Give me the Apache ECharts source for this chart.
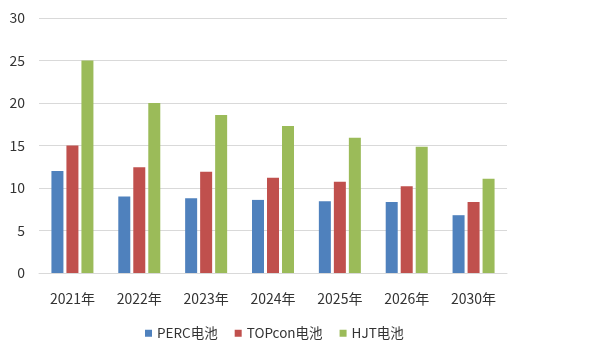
<!DOCTYPE html>
<html><head><meta charset="utf-8">
<script src="https://cdn.jsdelivr.net/npm/echarts@6/dist/echarts.min.js"></script>
<style>html,body{margin:0;padding:0;background:#fff}#c{width:600px;height:360px}</style>
</head><body><div id="c"></div>
<script>
const categories = ['2021年','2022年','2023年','2024年','2025年','2026年','2030年'];
const perc = [12.0, 9.0, 8.8, 8.6, 8.45, 8.35, 6.8];
const topcon = [15.0, 12.45, 11.9, 11.2, 10.75, 10.2, 8.35];
const hjt = [25.0, 20.0, 18.6, 17.3, 15.9, 14.85, 11.1];
const seriesNames = ['PERC电池','TOPcon电池','HJT电池'];
const colors = ['#4F81BD','#C0504D','#9BBB59'];

const font = '"Noto Sans CJK SC", "Noto Sans", sans-serif';
const chart = echarts.init(document.getElementById('c'));
const mk = (name, data, color) => ({
  name, type:'bar', data, barWidth: 12, barGap: '25%',
  itemStyle:{color}
});
chart.setOption({
  animation:false,
  textStyle:{fontFamily:font},
  grid:{left:39, right:93, top:18, bottom:87},
  legend:{
    bottom:15, left:140, itemWidth:7, itemHeight:7, itemGap:17,
    icon:'rect',
    textStyle:{fontSize:13.5, color:'#333', fontFamily:font},
    data: seriesNames
  },
  xAxis:{
    type:'category', data:categories,
    axisLine:{lineStyle:{color:'#d9d9d9'}},
    axisTick:{show:false},
    axisLabel:{fontSize:14, color:'#333', margin:19, fontFamily:font}
  },
  yAxis:{
    type:'value', min:0, max:30, interval:5,
    axisLine:{show:false}, axisTick:{show:false},
    splitLine:{lineStyle:{color:'#d9d9d9'}},
    axisLabel:{fontSize:14, color:'#333', margin:14, fontFamily:font}
  },
  series:[
    mk(seriesNames[0], perc, colors[0]),
    mk(seriesNames[1], topcon, colors[1]),
    mk(seriesNames[2], hjt, colors[2])
  ]
});
</script></body></html>
